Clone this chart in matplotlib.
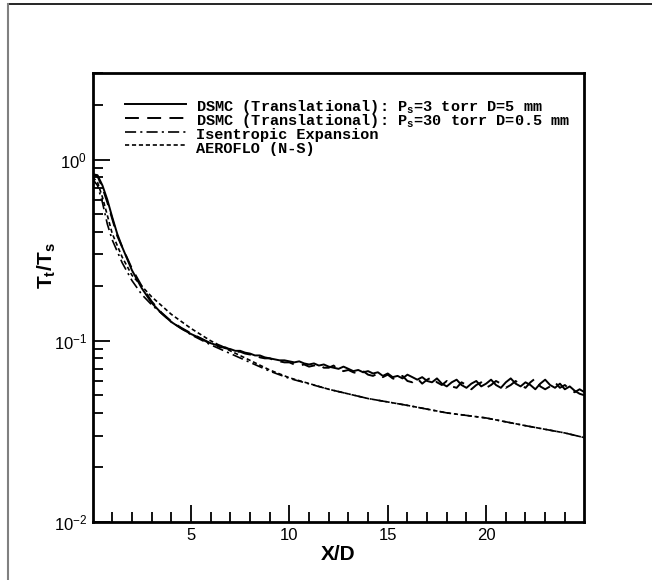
import matplotlib
matplotlib.use("Agg")
import matplotlib.pyplot as plt
from matplotlib.lines import Line2D
import numpy as np

plt.rcParams['font.family'] = 'Liberation Sans'
plt.rcParams['mathtext.fontset'] = 'custom'
plt.rcParams['mathtext.rm'] = 'Liberation Sans'
plt.rcParams['mathtext.bf'] = 'Liberation Sans:bold'
plt.rcParams['mathtext.it'] = 'Liberation Mono:bold'
plt.rcParams['lines.scale_dashes'] = False

# --- data ---
# near-field part of both DSMC runs
x_near = [0.0, 0.25, 0.5, 0.75, 1.0, 1.25, 1.5, 2.0, 2.5, 3.0, 3.5, 4.0, 4.5, 5.0, 5.5]
dsmc3_near = [0.83, 0.82, 0.72, 0.60, 0.48, 0.39, 0.33, 0.245, 0.195, 0.162, 0.142, 0.127, 0.117, 0.109, 0.103]
dsmc30_near = [0.83, 0.81, 0.70, 0.58, 0.47, 0.38, 0.33, 0.25, 0.20, 0.165, 0.143, 0.128, 0.118, 0.110, 0.103]

# far-field (noisy) part, every 0.25 X/D from 6 to 25
x_far = list(np.arange(6.0, 25.01, 0.25))
dsmc3_far = [0.097, 0.095, 0.094, 0.091, 0.090, 0.088, 0.088, 0.086, 0.085, 0.083,
             0.083, 0.081, 0.080, 0.079, 0.078, 0.078, 0.077, 0.076, 0.077, 0.075,
             0.074, 0.075, 0.073, 0.074, 0.072, 0.071, 0.070, 0.072, 0.070, 0.068,
             0.069, 0.067, 0.068, 0.066, 0.067, 0.064, 0.066, 0.063, 0.064, 0.062,
             0.065, 0.063, 0.061, 0.063, 0.060, 0.059, 0.062, 0.058, 0.056, 0.059,
             0.061, 0.057, 0.055, 0.058, 0.060, 0.056, 0.058, 0.061, 0.057, 0.055,
             0.059, 0.062, 0.058, 0.056, 0.059, 0.057, 0.054, 0.058, 0.061, 0.057,
             0.055, 0.058, 0.054, 0.056, 0.053, 0.051, 0.050]
dsmc30_far = [0.096, 0.094, 0.092, 0.092, 0.089, 0.087, 0.087, 0.085, 0.084, 0.084,
              0.081, 0.080, 0.080, 0.078, 0.077, 0.076, 0.076, 0.074, 0.073, 0.074,
              0.072, 0.073, 0.074, 0.071, 0.071, 0.073, 0.069, 0.068, 0.069, 0.067,
              0.066, 0.068, 0.065, 0.064, 0.066, 0.063, 0.065, 0.062, 0.061, 0.064,
              0.060, 0.059, 0.062, 0.058, 0.061, 0.063, 0.059, 0.057, 0.060, 0.056,
              0.055, 0.059, 0.057, 0.054, 0.057, 0.059, 0.055, 0.057, 0.060, 0.058,
              0.055, 0.057, 0.060, 0.057, 0.055, 0.059, 0.062, 0.056, 0.054, 0.056,
              0.059, 0.055, 0.057, 0.054, 0.052, 0.054, 0.052]

x_isen = [0.0, 0.25, 0.5, 0.75, 1.0, 1.5, 2.0, 2.5, 3.0, 4.0, 5.0, 6.0, 7.0, 8.0,
          9.0, 10.0, 12.0, 14.0, 16.0, 18.0, 20.0, 22.0, 24.0, 25.0]
isentropic = [0.78, 0.72, 0.58, 0.44, 0.36, 0.27, 0.215, 0.18, 0.158, 0.127, 0.108,
              0.095, 0.085, 0.076, 0.068, 0.062, 0.054, 0.048, 0.044, 0.040,
              0.0375, 0.034, 0.031, 0.0292]

x_aero = [0.0, 0.25, 0.5, 1.0, 1.5, 2.0, 2.5, 3.0, 4.0, 5.0, 6.0, 7.0, 8.0, 9.0,
          10.0, 12.0, 14.0, 16.0, 18.0, 20.0, 22.0, 24.0, 25.0]
aeroflo = [0.80, 0.75, 0.62, 0.39, 0.29, 0.23, 0.20, 0.175, 0.14, 0.117, 0.100,
           0.088, 0.078, 0.069, 0.0625, 0.054, 0.048, 0.044, 0.040, 0.0375,
           0.034, 0.031, 0.0292]

labels = ['DSMC (Translational): P$_{\\mathit{s}}$=3 torr D=5 mm',
          'DSMC (Translational): P$_{\\mathit{s}}$=30 torr D=0.5 mm',
          'Isentropic Expansion',
          'AEROFLO (N-S)']

fig = plt.figure(figsize=(6.52, 5.8), dpi=100)
ax = fig.add_axes([0.142, 0.100, 0.753, 0.774])

ax.plot(x_near + x_far, dsmc3_near + dsmc3_far, color='black', lw=1.4, label=labels[0])
ax.plot(x_near + x_far, dsmc30_near + dsmc30_far, color='black', lw=1.4,
        dashes=(10, 6), label=labels[1])
ax.plot(x_isen, isentropic, color='black', lw=1.2, dashes=(8, 3, 1.5, 3), label=labels[2])
ax.plot(x_aero, aeroflo, color='black', lw=1.2, dashes=(3, 2), label=labels[3])

ax.set_yscale('log')
ax.set_xlim(0, 24.95)
ax.set_ylim(0.01, 3.0)
ax.set_xticks([5, 10, 15, 20])
ax.set_xticks(np.arange(1, 25), minor=True)

ax.tick_params(which='both', direction='in', top=False, right=False, width=1.3,
               labelsize=12, pad=4)
ax.tick_params(which='major', length=12)
ax.tick_params(which='minor', length=7)
for s in ax.spines.values():
    s.set_linewidth(2.0)

ax.set_xlabel('X/D', fontsize=15, fontweight='bold', labelpad=2)
ax.set_ylabel('$\\mathbf{T_t/T_s}$', fontsize=15)
ax.yaxis.set_label_coords(-0.07, 0.572)

# rows all get the same height from the handle box, so spacing stays even
ax.legend(loc='upper left', bbox_to_anchor=(0.066, 0.948), frameon=False,
          borderpad=0, borderaxespad=0, handlelength=4.0, handletextpad=0.65,
          handleheight=1.6, labelspacing=-0.39,
          prop={'family': 'Liberation Mono', 'weight': 'bold', 'size': 11})

# outer page frame
fig.add_artist(Line2D([8 / 652, 1.0], [576 / 580, 576 / 580], color='black', lw=1.2,
                      transform=fig.transFigure))
fig.add_artist(Line2D([8 / 652, 8 / 652], [0.0, 576 / 580], color='gray', lw=1.5,
                      transform=fig.transFigure))

fig.savefig('out.png', dpi=100)
